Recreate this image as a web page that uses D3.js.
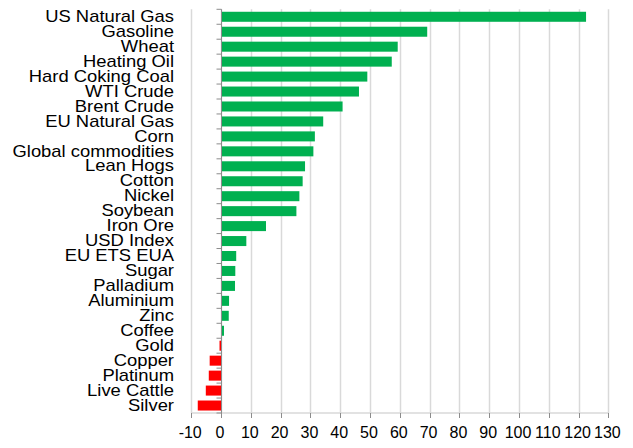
<!DOCTYPE html>
<html>
<head>
<meta charset="utf-8">
<script src="https://cdn.jsdelivr.net/npm/d3@7"></script>
<style>
  html, body { margin: 0; padding: 0; background: #fff; }
  svg { display: block; font-family: "Liberation Sans", Arial, sans-serif; }
</style>
</head>
<body>
<svg id="chart" width="633" height="448"></svg>
<script>
// Year-to-date change by commodity, %
const categories = [
  "US Natural Gas", "Gasoline", "Wheat", "Heating Oil", "Hard Coking Coal",
  "WTI Crude", "Brent Crude", "EU Natural Gas", "Corn", "Global commodities",
  "Lean Hogs", "Cotton", "Nickel", "Soybean", "Iron Ore", "USD Index",
  "EU ETS EUA", "Sugar", "Palladium", "Aluminium", "Zinc", "Coffee",
  "Gold", "Copper", "Platinum", "Live Cattle", "Silver"
];
const values = [
  122.5, 69.2, 59.3, 57.3, 49.1,
  46.3, 40.8, 34.3, 31.5, 31.0,
  28.2, 27.4, 26.3, 25.3, 15.1, 8.5,
  5.1, 4.8, 4.7, 2.7, 2.6, 1.0,
  -0.5, -3.8, -4.1, -5.1, -7.8
];
const tickValues = [-10, 0, 10, 20, 30, 40, 50, 60, 70, 80, 90, 100, 110, 120, 130];

const data = categories.map((c, i) => ({ name: c, value: values[i] }));

const svg = d3.select("#chart");
const plotTop = 9.3, plotBottom = 413;

const x = d3.scaleLinear().domain([-10, 130]).range([191.2, 608.4]);
const y = d3.scaleBand().domain(categories).range([plotTop, plotBottom])
  .paddingInner(0.33).paddingOuter(0.165);

// vertical gridlines
svg.append("g").selectAll("line")
  .data(tickValues)
  .join("line")
  .attr("x1", d => Math.round(x(d)) + 0.5)
  .attr("x2", d => Math.round(x(d)) + 0.5)
  .attr("y1", plotTop)
  .attr("y2", plotBottom)
  .attr("stroke", "#d9d9d9")
  .attr("stroke-width", 1.5);

// value axis baseline + ticks
svg.append("line")
  .attr("x1", x(-10)).attr("x2", x(130))
  .attr("y1", plotBottom).attr("y2", plotBottom)
  .attr("stroke", "#d9d9d9").attr("stroke-width", 1.5);
svg.append("g").selectAll("line")
  .data(tickValues)
  .join("line")
  .attr("x1", d => Math.round(x(d)) + 0.5)
  .attr("x2", d => Math.round(x(d)) + 0.5)
  .attr("y1", plotBottom)
  .attr("y2", plotBottom + 5)
  .attr("stroke", "#8c8c8c")
  .attr("stroke-width", 1);

// tick labels
svg.append("g").selectAll("text")
  .data(tickValues)
  .join("text")
  .attr("x", d => x(d) - 1)
  .attr("y", 438)
  .attr("text-anchor", "middle")
  .attr("font-size", 16)
  .attr("fill", "#000")
  .text(d => d);

// bars
svg.append("g").selectAll("rect")
  .data(data)
  .join("rect")
  .attr("x", d => x(Math.min(0, d.value)))
  .attr("y", d => y(d.name))
  .attr("width", d => Math.abs(x(d.value) - x(0)))
  .attr("height", y.bandwidth())
  .attr("fill", d => d.value >= 0 ? "#00b050" : "#ff0000");

// category axis at zero with outward ticks at band boundaries
const x0 = Math.round(x(0)) + 0.5;
svg.append("line")
  .attr("x1", x0).attr("x2", x0)
  .attr("y1", plotTop).attr("y2", plotBottom)
  .attr("stroke", "#8c8c8c").attr("stroke-width", 1);
const boundaries = d3.range(categories.length + 1).map(i => plotTop + i * y.step());
svg.append("g").selectAll("line")
  .data(boundaries)
  .join("line")
  .attr("x1", x0 - 5).attr("x2", x0)
  .attr("y1", d => d).attr("y2", d => d)
  .attr("stroke", "#8c8c8c").attr("stroke-width", 1);

// category labels
svg.append("g").selectAll("text")
  .data(categories)
  .join("text")
  .attr("transform", d => `translate(174,${y(d) + y.bandwidth() / 2 + 5.2}) scale(1.15,1)`)
  .attr("text-anchor", "end")
  .attr("font-size", 16)
  .attr("fill", "#000")
  .text(d => d);
</script>
</body>
</html>
